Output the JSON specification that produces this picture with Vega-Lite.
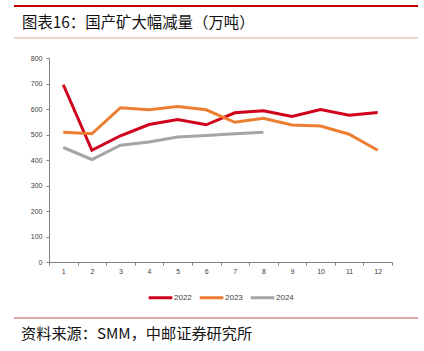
{
  "$schema": "https://vega.github.io/schema/vega-lite/v6.json",
  "padding": {"left": 13, "top": 5, "right": 0, "bottom": 0},
  "background": "white",
  "config": {
    "view": {"stroke": null},
    "font": "Liberation Sans",
    "legend": {"layout": {"bottom": {"anchor": "middle"}}}
  },
  "datasets": {
    "header": [{"label": "图表16：国产矿大幅减量（万吨）"}],
    "footer": [{"label": "资料来源：SMM，中邮证券研究所"}],
    "mining": [
      {"year": "2022", "month": 1, "value": 695},
      {"year": "2022", "month": 2, "value": 438},
      {"year": "2022", "month": 3, "value": 495},
      {"year": "2022", "month": 4, "value": 539},
      {"year": "2022", "month": 5, "value": 559},
      {"year": "2022", "month": 6, "value": 538},
      {"year": "2022", "month": 7, "value": 585},
      {"year": "2022", "month": 8, "value": 593},
      {"year": "2022", "month": 9, "value": 571},
      {"year": "2022", "month": 10, "value": 598},
      {"year": "2022", "month": 11, "value": 576},
      {"year": "2022", "month": 12, "value": 586},
      {"year": "2023", "month": 1, "value": 509},
      {"year": "2023", "month": 2, "value": 503},
      {"year": "2023", "month": 3, "value": 605},
      {"year": "2023", "month": 4, "value": 597},
      {"year": "2023", "month": 5, "value": 610},
      {"year": "2023", "month": 6, "value": 597},
      {"year": "2023", "month": 7, "value": 548},
      {"year": "2023", "month": 8, "value": 564},
      {"year": "2023", "month": 9, "value": 537},
      {"year": "2023", "month": 10, "value": 533},
      {"year": "2023", "month": 11, "value": 501},
      {"year": "2023", "month": 12, "value": 438},
      {"year": "2024", "month": 1, "value": 449},
      {"year": "2024", "month": 2, "value": 402},
      {"year": "2024", "month": 3, "value": 458},
      {"year": "2024", "month": 4, "value": 471},
      {"year": "2024", "month": 5, "value": 490},
      {"year": "2024", "month": 6, "value": 496},
      {"year": "2024", "month": 7, "value": 503},
      {"year": "2024", "month": 8, "value": 509}
    ]
  },
  "spacing": 15,
  "resolve": {"scale": {"color": "independent"}, "legend": {"color": "independent"}},
  "vconcat": [
    {
      "width": 404,
      "height": 32,
      "data": {"name": "header"},
      "layer": [
        {
          "mark": {"type": "rule", "color": "#C00000", "strokeWidth": 2},
          "encoding": {"y": {"datum": 1, "type": "quantitative", "scale": {"domain": [0, 1]}, "axis": null}}
        },
        {
          "mark": {"type": "rule", "color": "#E6A3A3", "strokeWidth": 1},
          "encoding": {"y": {"datum": 0, "type": "quantitative", "scale": {"domain": [0, 1]}, "axis": null}}
        },
        {
          "mark": {"type": "text", "align": "left", "baseline": "middle", "dx": 8, "dy": 1, "font": "Noto Sans CJK SC", "fontSize": 15.4, "color": "#111111"},
          "encoding": {
            "text": {"field": "label"},
            "x": {"datum": 0, "type": "quantitative", "scale": {"domain": [0, 1]}, "axis": null}
          }
        }
      ]
    },
    {
      "spacing": 13,
      "resolve": {"scale": {"color": "independent"}, "legend": {"color": "independent"}},
      "vconcat": [
        {
          "spacing": 15,
          "resolve": {"scale": {"color": "independent"}, "legend": {"color": "independent"}},
          "hconcat": [
            {"width": 1, "height": 1, "data": {"values": []}, "mark": "point", "encoding": {}},
            {
              "width": 343,
              "height": 204,
              "data": {"name": "mining"},
              "mark": {"type": "line", "strokeWidth": 3},
              "encoding": {
                "x": {
                  "field": "month", "type": "ordinal", "bandPosition": 0.5,
                  "scale": {"type": "band", "paddingInner": 0, "paddingOuter": 0},
                  "axis": {"title": null, "labelAngle": 0, "tickBand": "extent", "domainColor": "#808080", "tickColor": "#808080", "tickSize": 3, "labelFontSize": 7, "labelColor": "#404040", "labelPadding": 2, "grid": false}
                },
                "y": {
                  "field": "value", "type": "quantitative",
                  "scale": {"domain": [0, 800]},
                  "axis": {"title": null, "values": [0, 100, 200, 300, 400, 500, 600, 700, 800], "grid": false, "domainColor": "#808080", "tickColor": "#808080", "tickSize": 3, "labelFontSize": 7, "labelColor": "#404040", "labelPadding": 4}
                },
                "color": {
                  "field": "year", "type": "nominal",
                  "scale": {"domain": ["2022", "2023", "2024"], "range": ["#D0021B", "#ED7D31", "#A5A5A5"]},
                  "legend": {"orient": "bottom", "title": null, "symbolType": "stroke", "symbolStrokeWidth": 3, "symbolSize": 560, "labelFontSize": 8, "labelColor": "#404040", "columnPadding": 1, "labelOffset": 0, "offset": 10}
                }
              }
            }
          ]
        },
        {
          "width": 404,
          "height": 24,
          "data": {"name": "footer"},
          "layer": [
            {
              "mark": {"type": "rule", "color": "#C0504D", "strokeWidth": 1},
              "encoding": {"y": {"datum": 1, "type": "quantitative", "scale": {"domain": [0, 1]}, "axis": null}}
            },
            {
              "mark": {"type": "text", "align": "left", "baseline": "middle", "dx": 7, "dy": 4, "font": "Noto Sans CJK SC", "fontSize": 15.2, "color": "#111111"},
              "encoding": {
                "text": {"field": "label"},
                "x": {"datum": 0, "type": "quantitative", "scale": {"domain": [0, 1]}, "axis": null}
              }
            }
          ]
        }
      ]
    }
  ]
}
